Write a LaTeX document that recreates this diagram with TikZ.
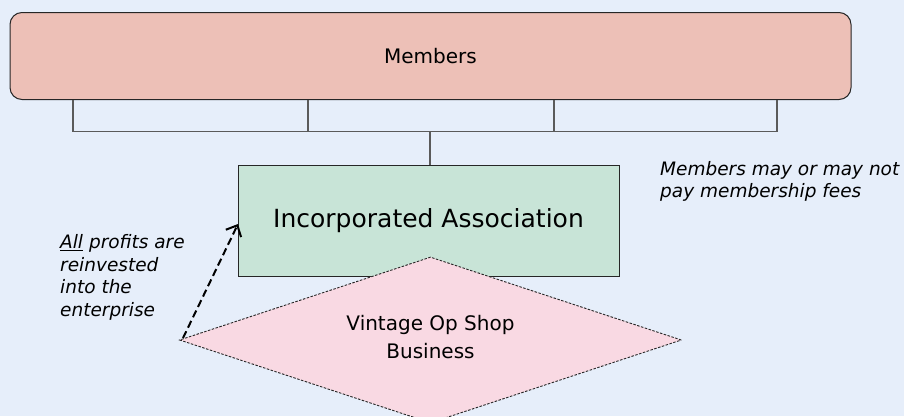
\documentclass[tikz,border=0pt]{standalone}
\usepackage{fontspec}
\setmainfont{DejaVu Sans}
\usetikzlibrary{arrows.meta,shapes.geometric}
\definecolor{bgblue}{HTML}{E6EEFA}
\definecolor{memfill}{HTML}{EDC0B7}
\definecolor{incfill}{HTML}{C8E4D7}
\definecolor{shopfill}{HTML}{F9D9E3}
\definecolor{linegray}{HTML}{5A5A5A}
\tikzset{
  membox/.style={draw=black!85, line width=1pt, fill=memfill, rounded corners=12pt,
    minimum width=841pt, minimum height=87pt, inner sep=0pt,
    font=\fontsize{20}{24}\selectfont},
  incbox/.style={draw=black!85, line width=1pt, fill=incfill,
    minimum width=381pt, minimum height=111pt, inner sep=0pt,
    font=\fontsize{25}{30}\selectfont},
  shopbox/.style={diamond, shape aspect=3, draw=black!85, line width=0.9pt, dash pattern=on 2.5pt off 1.5pt,
    fill=shopfill, minimum width=502pt, minimum height=166pt, inner sep=0pt,
    align=center, font=\fontsize{20}{28}\selectfont},
  notetext/.style={anchor=north west, inner sep=0pt, align=left,
    font=\fontsize{18.5}{22.5}\selectfont\itshape},
  tree/.style={draw=linegray, line width=1.2pt},
  profit/.style={draw=black, line width=2pt, dash pattern=on 7.5pt off 4pt,
    -{Straight Barb[length=9pt,width=17pt,line width=2pt]}}
}
\begin{document}
\begin{tikzpicture}[x=1pt,y=-1pt]
\useasboundingbox (0,0) rectangle (904,416);
\clip (0,0) rectangle (904,416);
\fill[bgblue] (0,0) rectangle (904,416);
\node[membox] (members) at (430.5,56) {Members};
\node[incbox] (inc) at (428.5,220.5) {Incorporated Association};
\coordinate (b1) at (73,131.5);
\coordinate (b2) at (308,131.5);
\coordinate (b3) at (554,131.5);
\coordinate (b4) at (777,131.5);
\coordinate (bm) at (430,131.5);
\draw[tree] (members.south -| b1) -- (b1) -- (b4) -- (members.south -| b4);
\draw[tree] (members.south -| b2) -- (b2);
\draw[tree] (members.south -| b3) -- (b3);
\draw[tree] (bm) -- (inc.north -| bm);
\node[shopbox] (shop) at (430.5,340) {\raisebox{6pt}{\shortstack{Vintage Op Shop\\[6pt]Business}}};
\coordinate (tail) at (183,338);
\coordinate (tip) at (238,224);
\draw[profit] (tail) -- (tip);
\node[notetext] (feesnote) at (660,161) {Members may or may not\\pay membership fees};
\node[notetext] (profitnote) at (60,234.5) {\underline{All} profits are\\reinvested\\into the\\enterprise};
\end{tikzpicture}
\end{document}
